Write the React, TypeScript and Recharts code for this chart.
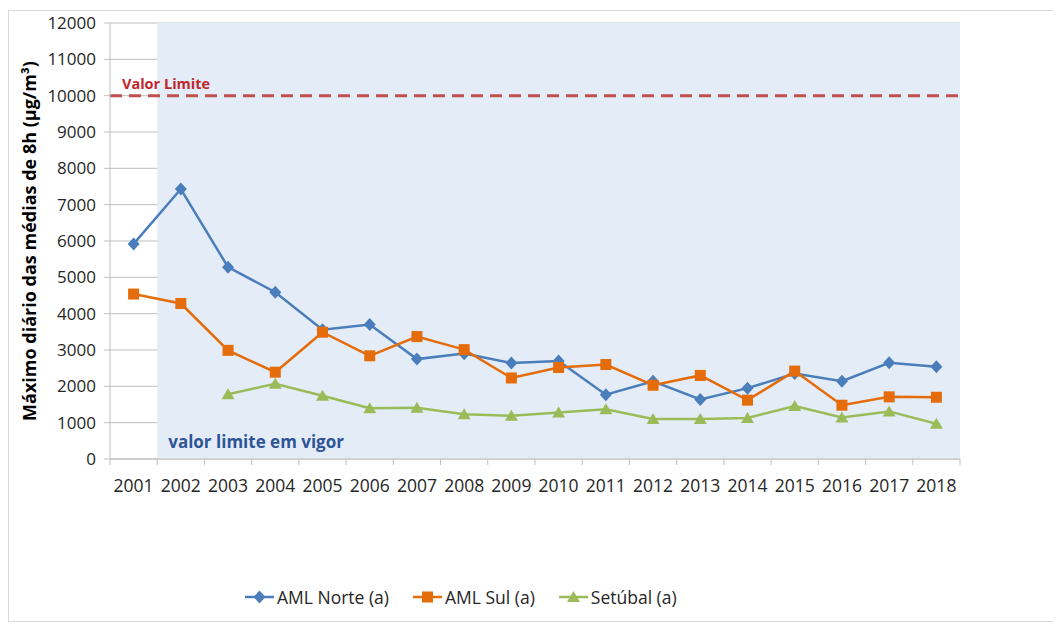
import React from "react"
import {
  CartesianGrid,
  Legend,
  Line,
  LineChart,
  ReferenceArea,
  ReferenceLine,
  XAxis,
  YAxis,
} from "recharts"

// anos e valores (µg/m³)
const years = [
  "2001", "2002", "2003", "2004", "2005", "2006", "2007", "2008", "2009",
  "2010", "2011", "2012", "2013", "2014", "2015", "2016", "2017", "2018",
]
const amlNorte = [
  5920, 7430, 5280, 4590, 3560, 3700, 2750, 2900, 2640,
  2700, 1770, 2140, 1640, 1950, 2350, 2140, 2650, 2540,
]
const amlSul = [
  4540, 4280, 2990, 2390, 3490, 2840, 3370, 3010, 2230,
  2520, 2600, 2030, 2300, 1620, 2420, 1480, 1710, 1700,
]
const setubal = [
  null, null, 1780, 2070, 1740, 1400, 1410, 1230, 1190,
  1280, 1370, 1100, 1100, 1130, 1460, 1140, 1310, 970,
]
const yTicks = [0, 1000, 2000, 3000, 4000, 5000, 6000, 7000, 8000, 9000, 10000, 11000, 12000]
const valorLimite = 10000

const FONT = "'Open Sans', sans-serif"
const BLUE = "#4a7ebb"
const ORANGE = "#e46c0a"
const GREEN = "#9bbb59"

const data = years.map((y, i) => ({
  year: y,
  norte: amlNorte[i],
  sul: amlSul[i],
  setubal: setubal[i],
}))

type Shape = "diamond" | "square" | "triangle"

function markerPath(shape: Shape, cx: number, cy: number) {
  if (shape === "diamond") return `M${cx},${cy - 6.5}L${cx + 6},${cy}L${cx},${cy + 6.5}L${cx - 6},${cy}Z`
  if (shape === "square") return `M${cx - 5.5},${cy - 5.5}h11v11h-11Z`
  return `M${cx},${cy - 6}L${cx + 6.5},${cy + 5}L${cx - 6.5},${cy + 5}Z`
}

const makeDot = (shape: Shape, color: string) => (props: any) => {
  const { cx, cy, value, index } = props
  if (cx == null || cy == null || value == null) return <g key={`e-${index}`} />
  return <path key={`d-${index}`} d={markerPath(shape, cx, cy)} fill={color} />
}

function XTick(props: any) {
  const { x, y, payload, index } = props
  const half = payload.offset ?? 0
  return (
    <g>
      <line x1={x - half} x2={x - half} y1={y} y2={y + 6} stroke="#bfbfbf" />
      {index === years.length - 1 && (
        <line x1={x + half} x2={x + half} y1={y} y2={y + 6} stroke="#bfbfbf" />
      )}
      <text x={x} y={y + 33} textAnchor="middle" fontSize={17.5} fill="#262626" fontFamily={FONT}>
        {payload.value}
      </text>
    </g>
  )
}

const legendItems: { name: string; color: string; shape: Shape }[] = [
  { name: "AML Norte (a)", color: BLUE, shape: "diamond" },
  { name: "AML Sul (a)", color: ORANGE, shape: "square" },
  { name: "Setúbal (a)", color: GREEN, shape: "triangle" },
]

function LegendContent() {
  return (
    <div style={{ display: "flex", height: 24, alignItems: "center", fontFamily: FONT, fontSize: 17.5, color: "#262626" }}>
      {legendItems.map((it) => (
        <div key={it.name} style={{ display: "flex", alignItems: "center", marginRight: 24 }}>
          <svg width={31} height={16} style={{ marginRight: 1 }}>
            <line x1={0} x2={29} y1={8} y2={8} stroke={it.color} strokeWidth={2.5} />
            <path d={markerPath(it.shape, 14.5, 8)} fill={it.color} />
          </svg>
          <span>{it.name}</span>
        </div>
      ))}
    </div>
  )
}

export default function App() {
  return (
    <div style={{ paddingTop: 2 }}>
      <div style={{ width: 1052, borderTop: "1px solid #d9d9d9", borderLeft: "1px solid #d9d9d9", borderBottom: "1px solid #d9d9d9" }}>
        <LineChart
          width={1052}
          height={610}
          data={data}
          margin={{ top: 12, right: 101, bottom: 12, left: 5 }}
        >
          <ReferenceArea
            x1="2002"
            x2="2018"
            fill="#e4ecf7"
            fillOpacity={1}
            stroke="none"
            label={{
              value: "valor limite em vigor",
              position: "insideBottomLeft",
              offset: 11,
              fill: "#2f5597",
              fontSize: 17,
              fontWeight: 700,
              fontFamily: FONT,
            }}
          />
          <CartesianGrid vertical={false} stroke="#bfbfbf" />
          <XAxis
            dataKey="year"
            scale="band"
            height={126}
            stroke="#bfbfbf"
            tickLine={false}
            tickSize={0}
            tickMargin={0}
            tick={<XTick />}
            interval={0}
          />
          <YAxis
            width={96}
            domain={[0, 12000]}
            ticks={yTicks}
            interval={0}
            stroke="#bfbfbf"
            tickSize={6}
            tickMargin={8}
            tick={{ fill: "#262626", fontSize: 17, fontFamily: FONT }}
            label={{
              value: "Máximo diário das médias de 8h (µg/m³)",
              angle: -90,
              position: "insideLeft",
              offset: 16,
              style: { textAnchor: "middle", fontWeight: 700, fontSize: 18, fontFamily: FONT, fill: "#000" },
            }}
          />
          <ReferenceLine
            y={valorLimite}
            stroke="#c0504d"
            strokeWidth={3}
            strokeDasharray="12 7"
            label={{
              value: "Valor Limite",
              position: "insideBottomLeft",
              offset: 7,
              dx: 5,
              fill: "#c0272d",
              fontSize: 14.5,
              fontWeight: 700,
              fontFamily: FONT,
            }}
          />
          <Line
            dataKey="norte"
            name="AML Norte (a)"
            stroke={BLUE}
            strokeWidth={2.5}
            dot={makeDot("diamond", BLUE)}
            isAnimationActive={false}
          />
          <Line
            dataKey="sul"
            name="AML Sul (a)"
            stroke={ORANGE}
            strokeWidth={2.5}
            dot={makeDot("square", ORANGE)}
            isAnimationActive={false}
          />
          <Line
            dataKey="setubal"
            name="Setúbal (a)"
            stroke={GREEN}
            strokeWidth={2.5}
            dot={makeDot("triangle", GREEN)}
            isAnimationActive={false}
          />
          <Legend
            verticalAlign="bottom"
            align="left"
            content={<LegendContent />}
            wrapperStyle={{ left: 236, width: "auto" }}
          />
        </LineChart>
      </div>
    </div>
  )
}
